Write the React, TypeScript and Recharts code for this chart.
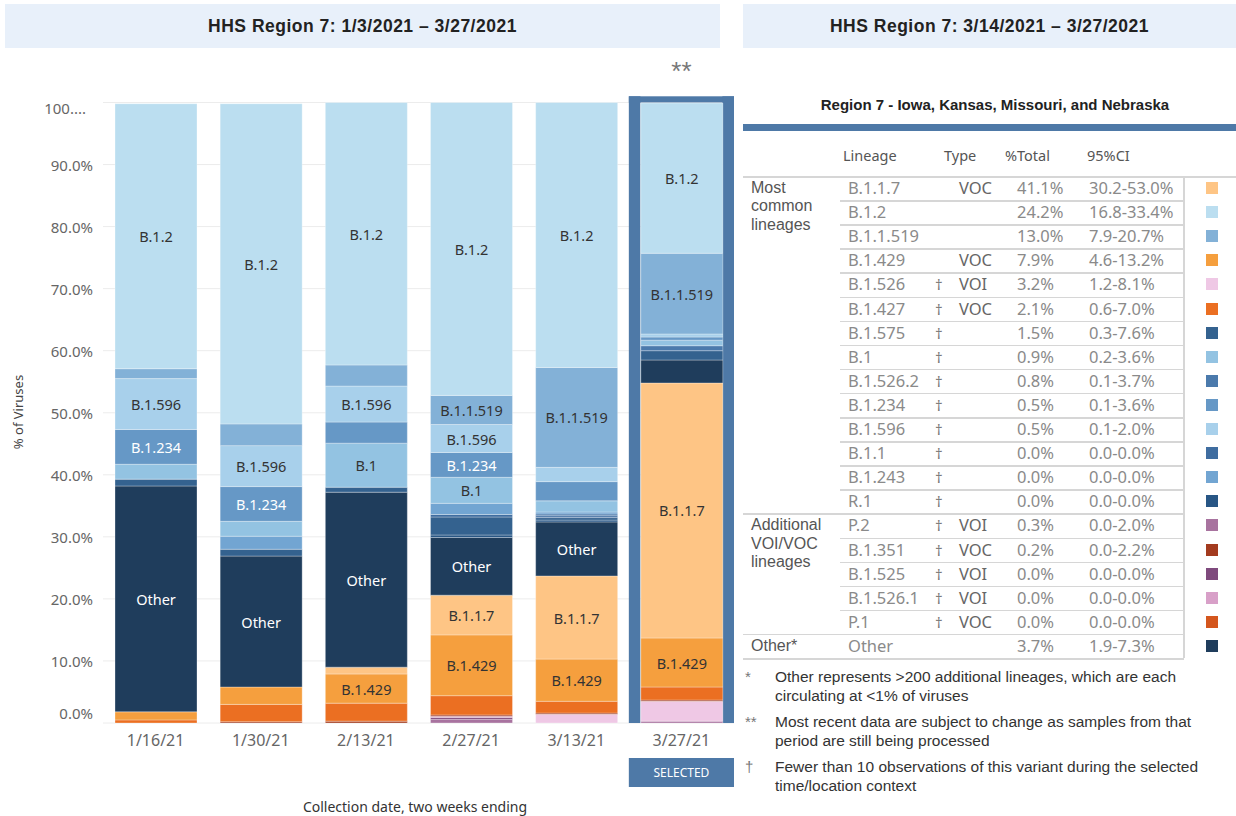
import React from 'react';
import { BarChart, Bar, XAxis, YAxis, CartesianGrid, LabelList, ReferenceArea } from 'recharts';

// ---------- categories ----------
const dates = ['1/16/21', '1/30/21', '2/13/21', '2/27/21', '3/13/21', '3/27/21'];
const selectedDate = '3/27/21';
const yTicks = [0, 10, 20, 30, 40, 50, 60, 70, 80, 90, 100];

// ---------- series values (% of viruses, per two-week period) ----------
const vP2 = [0, 0, 0, 0.6, 0, 0.3];
const vB1525 = [0, 0, 0, 0.3, 0, 0];
const vB15261 = [0, 0, 0, 0.2, 0, 0];
const vB1526 = [0, 0, 0, 0, 1.4, 3.2];
const vB1351 = [0, 0.2, 0.3, 0.2, 0.2, 0.2];
const vP1 = [0, 0, 0, 0, 0, 0];
const vB1427 = [0.5, 2.8, 2.9, 3.1, 1.9, 2.1];
const vB1429 = [1.3, 2.8, 4.7, 9.8, 6.8, 7.9];
const vB117 = [0, 0, 1.1, 6.4, 13.4, 41.1];
const vOther = [36.4, 21.1, 28.2, 9.3, 8.7, 3.7];
const vR1 = [0, 0, 0, 0.4, 0.3, 0];
const vB1575 = [1.1, 1.1, 0.8, 2.9, 0.4, 1.5];
const vB11 = [0, 0, 0, 0.4, 0.3, 0];
const vB15262 = [0, 0, 0, 0, 0.3, 0.8];
const vB1243 = [0, 2.1, 0, 1.8, 0.3, 0];
const vB1 = [2.4, 2.4, 7.1, 4.2, 1.8, 0.9];
const vB1234 = [5.6, 5.6, 3.4, 4.0, 3.1, 0.5];
const vB1596 = [8.2, 6.6, 5.8, 4.5, 2.3, 0.5];
const vB11519 = [1.6, 3.5, 3.4, 4.7, 16.1, 13.0];
const vB12 = [42.7, 51.6, 42.3, 47.2, 42.7, 24.2];

// stack order: bottom -> top
const lineageNames = ['P.2', 'B.1.525', 'B.1.526.1', 'B.1.526', 'B.1.351', 'P.1', 'B.1.427', 'B.1.429', 'B.1.1.7', 'Other',
  'R.1', 'B.1.575', 'B.1.1', 'B.1.526.2', 'B.1.243', 'B.1', 'B.1.234', 'B.1.596', 'B.1.1.519', 'B.1.2'];
const lineageValues = [vP2, vB1525, vB15261, vB1526, vB1351, vP1, vB1427, vB1429, vB117, vOther,
  vR1, vB1575, vB11, vB15262, vB1243, vB1, vB1234, vB1596, vB11519, vB12];
const lineageColors = ['#a8739f', '#7f4a7d', '#d8a0c8', '#efc8e5', '#a33b1f', '#d4561d', '#eb6f22', '#f59f3e', '#fec585', '#1f3d5c',
  '#285685', '#34628f', '#3f6da0', '#4b7aac', '#72a5d2', '#93c3e2', '#6698c6', '#a8d0eb', '#83b1d7', '#bbdef0'];
const whiteLabelLineages = ['Other', 'B.1.234'];
const labelThreshold = 3.8;

// ---------- table ----------
const tableLineage = ['B.1.1.7', 'B.1.2', 'B.1.1.519', 'B.1.429', 'B.1.526', 'B.1.427', 'B.1.575', 'B.1', 'B.1.526.2', 'B.1.234',
  'B.1.596', 'B.1.1', 'B.1.243', 'R.1', 'P.2', 'B.1.351', 'B.1.525', 'B.1.526.1', 'P.1', 'Other'];
const tableDagger = [false, false, false, false, true, true, true, true, true, true, true, true, true, true, true, true, true, true, true, false];
const tableType = ['VOC', '', '', 'VOC', 'VOI', 'VOC', '', '', '', '', '', '', '', '', 'VOI', 'VOC', 'VOI', 'VOI', 'VOC', ''];
const tableTotal = ['41.1%', '24.2%', '13.0%', '7.9%', '3.2%', '2.1%', '1.5%', '0.9%', '0.8%', '0.5%', '0.5%', '0.0%', '0.0%', '0.0%',
  '0.3%', '0.2%', '0.0%', '0.0%', '0.0%', '3.7%'];
const tableCI = ['30.2-53.0%', '16.8-33.4%', '7.9-20.7%', '4.6-13.2%', '1.2-8.1%', '0.6-7.0%', '0.3-7.6%', '0.2-3.6%', '0.1-3.7%',
  '0.1-3.6%', '0.1-2.0%', '0.0-0.0%', '0.0-0.0%', '0.0-0.0%', '0.0-2.0%', '0.0-2.2%', '0.0-0.0%', '0.0-0.0%', '0.0-0.0%', '1.9-7.3%'];
const tableGroups = [
  { row: 0, lines: ['Most', 'common', 'lineages'] },
  { row: 14, lines: ['Additional', 'VOI/VOC', 'lineages'] },
  { row: 19, lines: ['Other*'] },
];
const footnotes = [
  { mark: '*', lines: ['Other represents >200 additional lineages, which are each', 'circulating at <1% of viruses'] },
  { mark: '**', lines: ['Most recent data are subject to change as samples from that', 'period are still being processed'] },
  { mark: '\u2020', lines: ['Fewer than 10 observations of this variant during the selected', 'time/location context'] },
];

const chartData = dates.map((d, i) => {
  const row: Record<string, any> = { date: d };
  lineageNames.forEach((_, k) => { row[`s${k}`] = lineageValues[k][i]; });
  return row;
});

const BAR_SIZE = 82;
const SANS = '"Noto Sans", "Open Sans", sans-serif';
const ARIAL = '"Liberation Sans", Arial, sans-serif';

const YTick = (props: any) => {
  const { y, payload } = props;
  const v = payload.value;
  const label = v === 100 ? '100....' : `${v.toFixed(1)}%`;
  const dy = v === 100 ? 5 : v === 0 ? -10 : 0;
  return (
    <text x={v === 100 ? 86 : 93} y={y + dy} textAnchor="end" dominantBaseline="central" fill="#666" fontSize={15} fontFamily={SANS}>
      {label}
    </text>
  );
};

const XTick = (props: any) => {
  const { x, y, payload } = props;
  return (
    <text x={x} y={y + 17} textAnchor="middle" dominantBaseline="central" fill="#666" fontSize={16} fontFamily={SANS}>
      {payload.value}
    </text>
  );
};

const makeLabel = (name: string) => (props: any) => {
  const { x, y, width, height, value } = props;
  if (value == null || value < labelThreshold) return null;
  const fill = whiteLabelLineages.includes(name) ? '#ffffff' : '#333333';
  return (
    <text x={x + width / 2} y={y + height / 2} textAnchor="middle" dominantBaseline="central" fill={fill} fontSize={14.5} fontFamily={SANS}>
      {name}
    </text>
  );
};

const SelectionFrame = (props: any) => {
  const { x, y, width, height } = props;
  const side = (width - BAR_SIZE) / 2;
  const top = height / 101;
  const c = '#4e79a7';
  return (
    <g>
      <rect x={x} y={y} width={width} height={top} fill={c} />
      <rect x={x} y={y} width={side} height={height} fill={c} />
      <rect x={x + width - side} y={y} width={side} height={height} fill={c} />
      <text x={x + width / 2} y={y - 16} textAnchor="middle" fill="#777" fontSize={26} fontFamily={ARIAL}>**</text>
      <rect x={x} y={y + height + 35} width={width} height={29} fill={c} />
      <text x={x + width / 2} y={y + height + 49.5} textAnchor="middle" dominantBaseline="central" fill="#fff" fontSize={12} fontFamily={SANS}>SELECTED</text>
    </g>
  );
};

const ROW_TOP = 176;
const ROW_H = 24.1;
const CELL_FONT = 16.5;
const GROUP_LINE_H = 18.3;

const abs = (left: number, top: number, extra: React.CSSProperties = {}): React.CSSProperties => ({
  position: 'absolute', left, top, whiteSpace: 'nowrap', ...extra,
});

const titleStyle: React.CSSProperties = {
  height: 44, background: '#e8f0fa', display: 'flex', alignItems: 'center', justifyContent: 'center',
  fontFamily: ARIAL, fontWeight: 'bold', fontSize: 17.5, letterSpacing: 0.5, color: '#222',
};

export default function App() {
  return (
    <div style={{ position: 'absolute', left: 0, top: 0, width: 1236, height: 816, background: '#fff', overflow: 'hidden' }}>
      {/* title boxes */}
      <div style={abs(5, 4, { ...titleStyle, width: 715 })}>HHS Region 7: 1/3/2021 – 3/27/2021</div>
      <div style={abs(743, 4, { ...titleStyle, width: 493 })}>HHS Region 7: 3/14/2021 – 3/27/2021</div>

      {/* chart */}
      <div style={abs(0, 0)}>
        <BarChart width={740} height={816} data={chartData} margin={{ top: 102.5, right: 6, bottom: 33, left: 0 }}>
          <CartesianGrid vertical={false} stroke="#ececec" />
          <XAxis dataKey="date" height={60} axisLine={false} tickLine={false} tickSize={0} tickMargin={0} tick={<XTick />} interval={0} />
          <YAxis width={103} domain={[0, 100]} ticks={yTicks} axisLine={false} tickLine={false} tick={<YTick />} interval={0} />
          <ReferenceArea x1={selectedDate} x2={selectedDate} y1={0} y2={101} ifOverflow="visible" shape={<SelectionFrame />} />
          {lineageNames.map((name, k) => (
            <Bar key={name} dataKey={`s${k}`} name={name} stackId="a" fill={lineageColors[k]} barSize={BAR_SIZE}
              stroke="#ffffff" strokeOpacity={0.3} strokeWidth={1} isAnimationActive={false}>
              <LabelList dataKey={`s${k}`} content={makeLabel(name)} />
            </Bar>
          ))}
        </BarChart>
      </div>

      {/* axis titles */}
      <div style={abs(18, 412, { transform: 'translate(-50%, -50%) rotate(-90deg)', fontFamily: SANS, fontSize: 13, color: '#444' })}>
        % of Viruses
      </div>
      <div style={abs(415, 806, { transform: 'translate(-50%, -50%)', fontFamily: SANS, fontSize: 14, color: '#333' })}>
        Collection date, two weeks ending
      </div>

      {/* table */}
      <div style={abs(995, 104, { transform: 'translate(-50%, -50%)', fontFamily: ARIAL, fontWeight: 'bold', fontSize: 15, color: '#222' })}>
        Region 7 - Iowa, Kansas, Missouri, and Nebraska
      </div>
      <div style={abs(743, 124, { width: 493, height: 7, background: '#4e79a7' })} />
      {[['Lineage', 843], ['Type', 944], ['%Total', 1005], ['95%CI', 1087]].map(([t, x]) => (
        <div key={t as string} style={abs(x as number, 145, { fontFamily: SANS, fontSize: 14.5, color: '#555', lineHeight: '20px' })}>{t}</div>
      ))}
      {tableLineage.map((lin, i) => {
        const top = ROW_TOP + i * ROW_H;
        const cy = top + ROW_H / 2;
        const groupStart = i === 0 || i === 14 || i === 19;
        const colorIdx = lineageNames.indexOf(lin);
        const cell: React.CSSProperties = { fontFamily: SANS, fontSize: CELL_FONT, color: '#8a8a8a', lineHeight: '22px' };
        return (
          <React.Fragment key={lin}>
            <div style={abs(groupStart ? 743 : 840, top, { width: i === 0 ? 493 : (groupStart ? 441 : 344), height: 1.5, background: '#d6d6d6' })} />
            <div style={abs(848, cy - 11, cell)}>{lin}</div>
            {tableDagger[i] && <div style={abs(935, cy - 11, { ...cell, fontSize: 15, color: '#777' })}>{'\u2020'}</div>}
            {tableType[i] && <div style={abs(959, cy - 11, { ...cell, color: '#666' })}>{tableType[i]}</div>}
            <div style={abs(1017, cy - 11, cell)}>{tableTotal[i]}</div>
            <div style={abs(1089, cy - 11, cell)}>{tableCI[i]}</div>
            <div style={abs(1206, cy - 6, { width: 12, height: 12, background: lineageColors[colorIdx] })} />
          </React.Fragment>
        );
      })}
      <div style={abs(743, ROW_TOP + 20 * ROW_H, { width: 441, height: 1.5, background: '#d6d6d6' })} />
      <div style={abs(1183, ROW_TOP, { width: 2, height: 20 * ROW_H, background: '#d6d6d6' })} />
      {tableGroups.map((g) =>
        g.lines.map((l, j) => (
          <div key={`${g.row}-${l}`} style={abs(751, ROW_TOP + g.row * ROW_H + 3 + j * GROUP_LINE_H, {
            fontFamily: ARIAL, fontSize: 16, color: '#555', lineHeight: `${GROUP_LINE_H}px`,
          })}>{l}</div>
        ))
      )}

      {/* footnotes */}
      {footnotes.map((f, i) => (
        <React.Fragment key={f.mark}>
          <div style={abs(745, 668 + i * 45, { fontFamily: ARIAL, fontSize: 15, color: '#777', lineHeight: '18.5px' })}>{f.mark}</div>
          {f.lines.map((l, j) => (
            <div key={l} style={abs(775, 668 + i * 45 + j * 18.5, { fontFamily: ARIAL, fontSize: 15.5, color: '#333', lineHeight: '18.5px' })}>{l}</div>
          ))}
        </React.Fragment>
      ))}
    </div>
  );
}
